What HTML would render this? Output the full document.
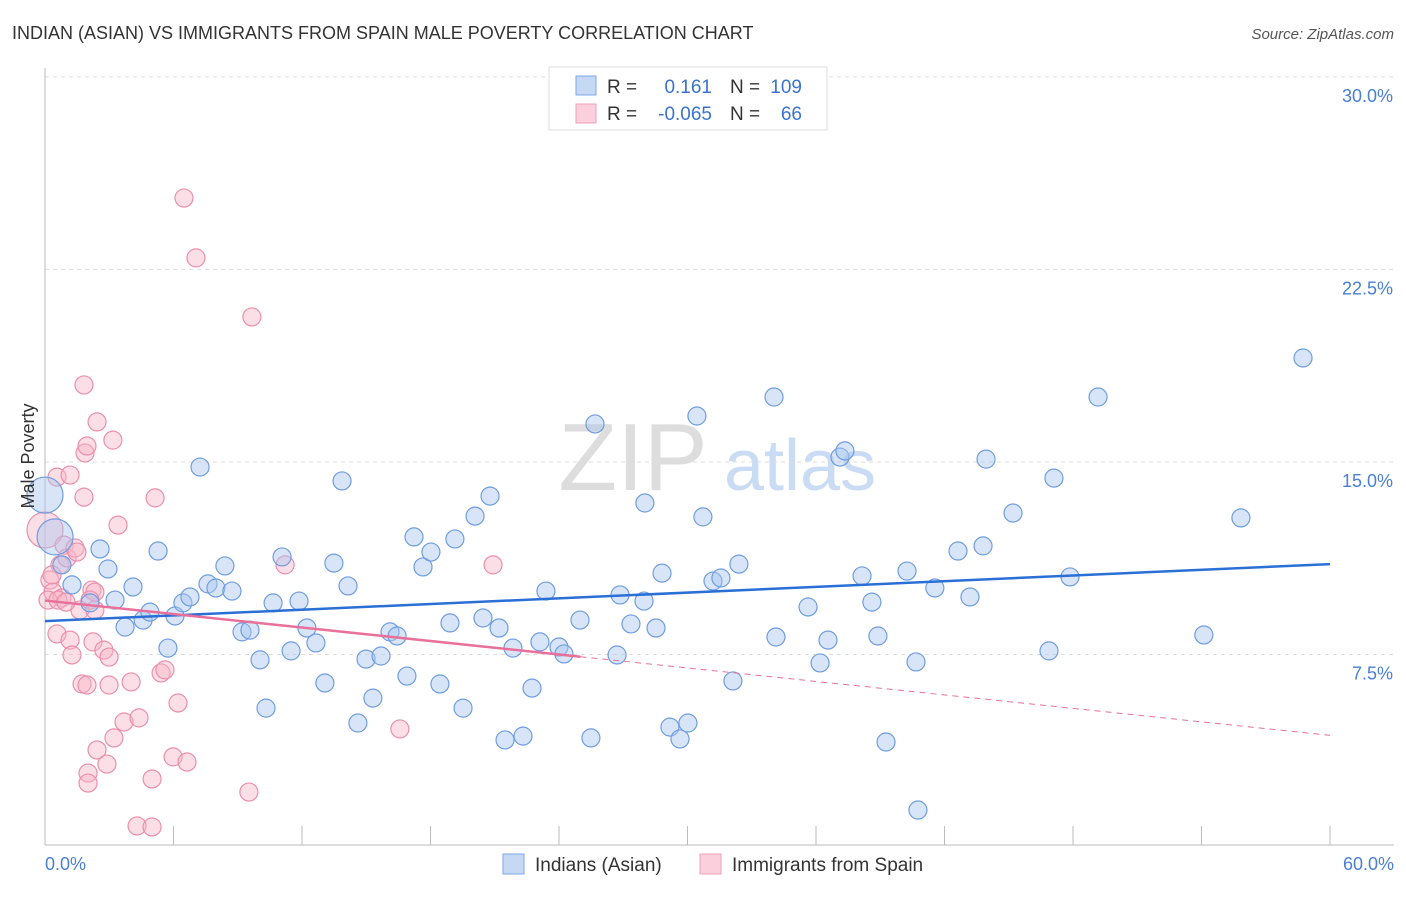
<!DOCTYPE html>
<html><head><meta charset="utf-8"><style>
body{margin:0;background:#fff;font-family:"Liberation Sans",sans-serif}
svg text{font-family:"Liberation Sans",sans-serif}
</style></head><body>
<svg width="1406" height="892">
<text x="12" y="39" font-size="18" fill="#333">INDIAN (ASIAN) VS IMMIGRANTS FROM SPAIN MALE POVERTY CORRELATION CHART</text>
<text x="1394" y="39" font-size="15" fill="#555" text-anchor="end" font-style="italic">Source: ZipAtlas.com</text>
<g><text x="633" y="490" font-size="96" fill="#ddd" text-anchor="middle" font-family="Liberation Serif">ZIP</text><text x="800" y="490" font-size="72" fill="#c9dcf3" text-anchor="middle">atlas</text></g>
<g id="grid"></g><g id="axes"></g><g id="pts"></g><g id="trend"></g>
<text transform="translate(34,456) rotate(-90)" font-size="18" fill="#333" text-anchor="middle">Male Poverty</text>
<text x="45" y="870" font-size="18" fill="#4a7fd6">0.0%</text>
<text x="1394" y="870" font-size="18" fill="#4a7fd6" text-anchor="end">60.0%</text>
<g>
<rect x="549" y="67" width="278" height="63" fill="#fff" stroke="#ddd"/>
<rect x="576" y="76" width="20" height="19" fill="#c5d9f5" stroke="#7fa8e6"/>
<rect x="576" y="104" width="20" height="19" fill="#fbd0dc" stroke="#eea1b8"/>
<text x="607" y="93" font-size="19" fill="#333">R =</text><text x="712" y="93" font-size="19" fill="#3a72d0" text-anchor="end">0.161</text>
<text x="730" y="93" font-size="19" fill="#333">N =</text><text x="802" y="93" font-size="19" fill="#3a72d0" text-anchor="end">109</text>
<text x="607" y="120" font-size="19" fill="#333">R =</text><text x="712" y="120" font-size="19" fill="#3a72d0" text-anchor="end">-0.065</text>
<text x="730" y="120" font-size="19" fill="#333">N =</text><text x="802" y="120" font-size="19" fill="#3a72d0" text-anchor="end">66</text>
</g>
<g>
<rect x="503" y="854" width="21" height="20" fill="#c5d9f5" stroke="#7fa8e6"/>
<text x="535" y="871" font-size="19" fill="#333">Indians (Asian)</text>
<rect x="700" y="854" width="21" height="20" fill="#fbd0dc" stroke="#eea1b8"/>
<text x="732" y="871" font-size="19" fill="#333">Immigrants from Spain</text>
</g>
</svg>
<script>
const yTicks=[7.5,15,22.5,30];
const xTicks=[0,6,12,18,24,30,36,42,48,54,60];
const blueX=[0,0.47,0.79,1.26,2.10,2.57,2.94,3.27,3.74,4.11,4.58,4.90,5.28,5.74,6.07,6.44,6.77,7.24,7.61,7.98,8.40,8.73,9.20,9.57,10.04,10.32,10.65,11.07,11.49,11.86,12.23,12.65,13.07,13.49,13.87,14.15,14.61,14.99,15.31,15.69,16.11,16.44,16.90,17.23,17.65,18.02,18.44,18.91,19.14,19.52,20.08,20.45,20.78,21.20,21.48,21.85,22.32,22.74,23.11,23.39,24.00,24.23,24.98,25.49,25.68,26.71,26.85,27.36,27.97,28.01,28.53,28.81,29.18,29.65,30.02,30.44,30.72,31.19,31.56,32.12,32.40,34.04,34.13,35.63,36.19,36.56,37.12,37.35,38.15,38.61,38.89,39.27,40.25,40.67,40.76,41.55,42.63,43.19,43.80,43.94,45.20,46.88,47.11,47.86,49.17,54.11,55.84,58.74];
const blueY=[13.71,12.08,10.99,10.21,9.51,11.61,10.83,9.62,8.57,10.13,8.84,9.15,11.53,7.75,9.00,9.51,9.74,14.80,10.25,10.09,10.95,9.97,8.38,8.45,7.29,5.41,9.51,11.30,7.64,9.58,8.53,7.95,6.39,11.06,14.26,10.17,4.83,7.32,5.80,7.44,8.38,8.22,6.66,12.08,10.91,11.49,6.35,8.73,12.00,5.41,12.89,8.92,13.67,8.53,4.17,7.75,4.32,6.19,7.99,9.97,7.79,7.52,8.84,4.25,16.48,7.48,9.82,8.69,9.58,13.40,8.53,10.67,4.67,4.21,4.83,16.79,12.86,10.36,10.48,6.47,11.02,17.53,8.18,9.35,7.17,8.06,15.19,15.43,10.56,9.54,8.22,4.09,10.75,7.21,1.44,10.09,11.53,9.74,11.73,15.11,13.01,7.64,14.37,10.52,17.53,8.26,12.82,19.05];
const pinkX=[0,0.23,0.37,0.56,0.56,0.70,0.79,0.89,1.03,1.17,1.17,1.26,1.40,1.49,1.63,1.73,1.82,1.82,1.87,1.96,1.96,2.01,2.01,2.19,2.24,2.33,2.43,2.43,2.75,2.89,2.99,2.99,3.17,3.22,3.41,3.69,4.02,4.30,4.39,5.00,5.00,5.14,5.42,5.60,5.98,6.21,6.49,6.63,7.05,9.52,9.66,11.21,16.57,20.92,0.14,0.33,0.61,0.98,2.10,2.33];
const pinkY=[12.35,10.40,9.93,8.30,14.41,10.99,9.70,11.76,11.26,8.06,14.49,7.48,11.65,11.49,9.23,6.35,18.00,13.63,15.35,15.62,6.31,2.88,2.49,10.01,7.99,9.93,16.56,3.78,7.67,3.23,7.40,6.31,15.85,4.25,12.54,4.87,6.43,0.82,5.03,2.65,0.78,13.60,6.78,6.90,3.51,5.61,25.28,3.31,22.95,2.14,20.65,10.99,4.60,10.99,9.62,10.60,9.62,9.54,9.62,9.23];
const NS="http://www.w3.org/2000/svg";
const X0=45,X1=1330,Y0=847,PY=25.67;
const sx=v=>X0+(v/60)*(X1-X0), sy=v=>Y0-v*PY;
function mk(t,a,p){const e=document.createElementNS(NS,t);for(const k in a)e.setAttribute(k,a[k]);p.appendChild(e);return e;}
const grid=document.getElementById('grid'),axes=document.getElementById('axes'),pts=document.getElementById('pts'),tr=document.getElementById('trend');
yTicks.forEach(t=>{
const l=mk('line',{x1:X0,x2:1394,y1:sy(t),y2:sy(t),stroke:'#ddd','stroke-dasharray':'4,4'},grid);


const tx=mk('text',{x:1393,y:sy(t)+25,'font-size':18,fill:'#4a7fd6','text-anchor':'end'},grid);tx.textContent=t.toFixed(1)+'%';


});
const ax=mk('line',{x1:X0,x2:1394,y1:845,y2:845,stroke:'#bbb'},axes);


const ay=mk('line',{x1:X0,x2:X0,y1:68,y2:845,stroke:'#bbb'},axes);


xTicks.forEach(t=>{const l=mk('line',{x1:sx(t),x2:sx(t),y1:826,y2:845,stroke:'#bbb'},axes);

});
function dots(xs,ys,fill,st,name,bigIdx){xs.forEach((x,i)=>{const big=bigIdx.includes(i);
const c=mk('circle',{cx:sx(x),cy:sy(ys[i]),r:big?18:9,fill:fill,'fill-opacity':0.45,stroke:st,'stroke-width':1.2},pts);

});}
dots(pinkX,pinkY,'#f7b5c8','#ec8fac','spain-point',[0]);
dots(blueX,blueY,'#a9c6f0','#6f9de0','indian-point',[0,1]);
const bf=[8.8,0.037],pf=[9.6,-0.0875];
const bl=mk('line',{x1:sx(0),y1:sy(bf[0]),x2:sx(60),y2:sy(bf[0]+bf[1]*60),stroke:'#2a6fd6','stroke-width':2.5},tr);


const pl=mk('line',{x1:sx(0),y1:sy(pf[0]),x2:sx(25),y2:sy(pf[0]+pf[1]*25),stroke:'#e8709a','stroke-width':2.5},tr);


const pd=mk('line',{x1:sx(25),y1:sy(pf[0]+pf[1]*25),x2:sx(60),y2:sy(pf[0]+pf[1]*60),stroke:'#e8709a','stroke-width':1,'stroke-dasharray':'6,5'},tr);


</script>
</body></html>
